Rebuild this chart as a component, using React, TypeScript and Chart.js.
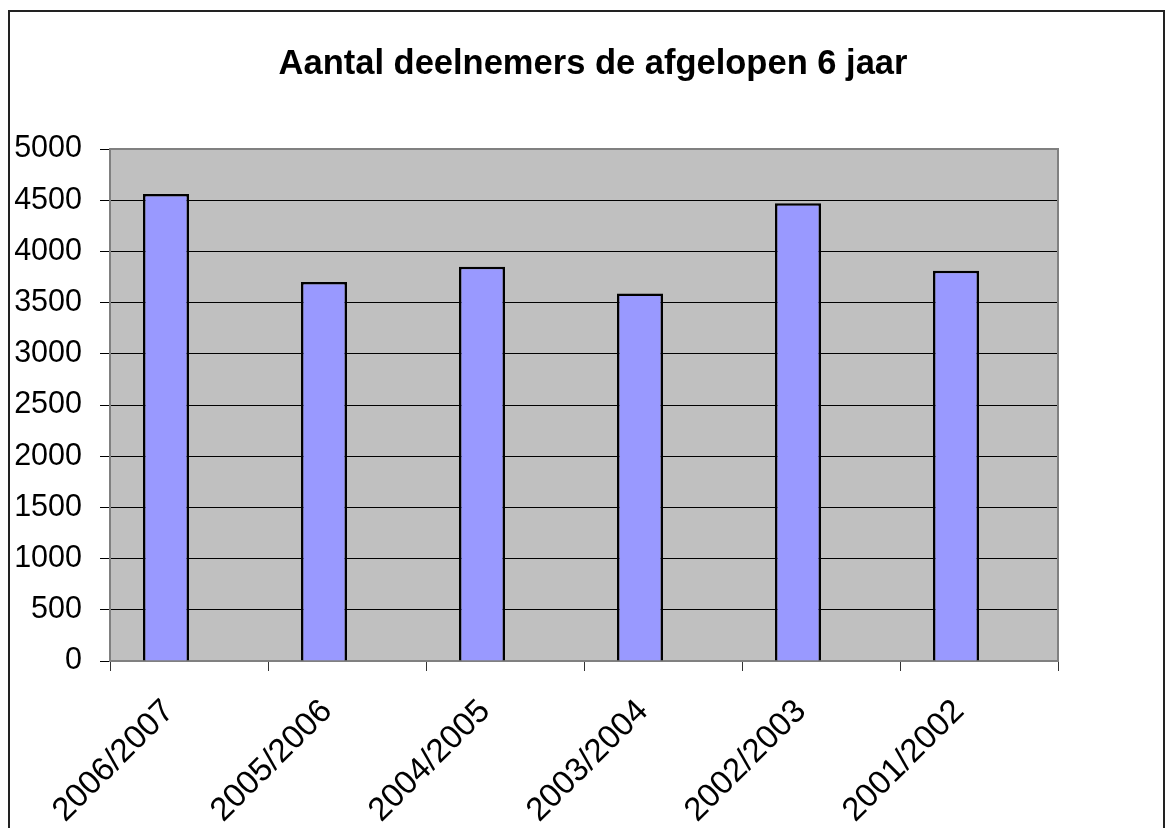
import React, { useEffect, useRef } from "react";
import { Chart, registerables } from "chart.js";

Chart.register(...registerables);

const titleText = "Aantal deelnemers de afgelopen 6 jaar";
const categories = ["2006/2007", "2005/2006", "2004/2005", "2003/2004", "2002/2003", "2001/2002"];
const participants = [4560, 3700, 3850, 3590, 4470, 3810];
const emptySeries = [null, null, null, null, null, null];
const yMin = 0;
const yMax = 5000;
const yStep = 500;

const FONT = "'Liberation Sans', Arial, sans-serif";

const plotFrame = {
  id: "plotFrame",
  beforeDraw(chart: any) {
    const { ctx, chartArea } = chart;
    ctx.save();
    ctx.fillStyle = "#C0C0C0";
    ctx.fillRect(chartArea.left, chartArea.top, chartArea.right - chartArea.left, chartArea.bottom - chartArea.top);
    ctx.restore();
  },
  beforeDatasetsDraw(chart: any) {
    const { ctx, chartArea } = chart;
    ctx.save();
    ctx.strokeStyle = "#808080";
    ctx.lineWidth = 2;
    ctx.strokeRect(chartArea.left, chartArea.top, chartArea.right - chartArea.left, chartArea.bottom - chartArea.top);
    ctx.restore();
  },
  afterDraw(chart: any) {
    const { ctx } = chart;
    ctx.save();
    ctx.fillStyle = "#000";
    ctx.font = `bold 34.5px ${FONT}`;
    ctx.textAlign = "center";
    ctx.textBaseline = "alphabetic";
    ctx.fillText(titleText, 583, 62);
    ctx.restore();
  },
};

export default function App() {
  const ref = useRef<HTMLCanvasElement | null>(null);

  useEffect(() => {
    if (!ref.current) return;
    const chart = new Chart(ref.current, {
      type: "bar",
      data: {
        labels: categories,
        datasets: [
          {
            data: participants,
            backgroundColor: "#9999FF",
            borderColor: "#000000",
            borderWidth: 2.5,
          },
          {
            data: emptySeries,
            backgroundColor: "#993366",
            borderColor: "#000000",
            borderWidth: 2.5,
          },
        ],
      },
      options: {
        animation: false,
        responsive: false,
        maintainAspectRatio: false,
        datasets: { bar: { categoryPercentage: 0.5823, barPercentage: 1 } },
        layout: { padding: { left: 0, right: 105, top: 137, bottom: 0 } },
        plugins: {
          legend: { display: false },
          tooltip: { enabled: false },
          title: { display: false },
        },
        scales: {
          x: {
            offset: true,
            grid: {
              offset: true,
              drawOnChartArea: false,
              drawTicks: true,
              tickLength: 10,
              tickColor: "#333",
              lineWidth: 1,
            },
            border: { display: false },
            ticks: {
              color: "#000",
              font: { family: FONT, size: 33 },
              minRotation: 45,
              maxRotation: 45,
              padding: 21,
              labelOffset: -20,
              autoSkip: false,
            },
            afterFit(scale: any) {
              scale.height = 167;
            },
          },
          y: {
            min: yMin,
            max: yMax,
            grid: {
              color: "#000",
              lineWidth: 1,
              drawTicks: true,
              tickLength: 10,
              tickColor: "#000",
            },
            border: { display: false },
            ticks: {
              stepSize: yStep,
              color: "#000",
              font: { family: FONT, size: 30.5 },
              padding: 18,
              callback: (v: any) => String(v),
            },
            afterFit(scale: any) {
              scale.width = 100;
            },
          },
        },
      },
      plugins: [plotFrame],
    });
    return () => chart.destroy();
  }, []);

  return (
    <div style={{ position: "fixed", left: 0, top: 0, width: 1166, height: 828, overflow: "hidden", background: "#fff" }}>
      <div
        style={{
          position: "absolute",
          left: 8,
          top: 10,
          width: 1157,
          height: 840,
          border: "2px solid #222",
          boxSizing: "border-box",
          background: "#fff",
        }}
      >
        <canvas ref={ref} width={1153} height={816} style={{ display: "block", width: 1153, height: 816 }} />
      </div>
    </div>
  );
}
